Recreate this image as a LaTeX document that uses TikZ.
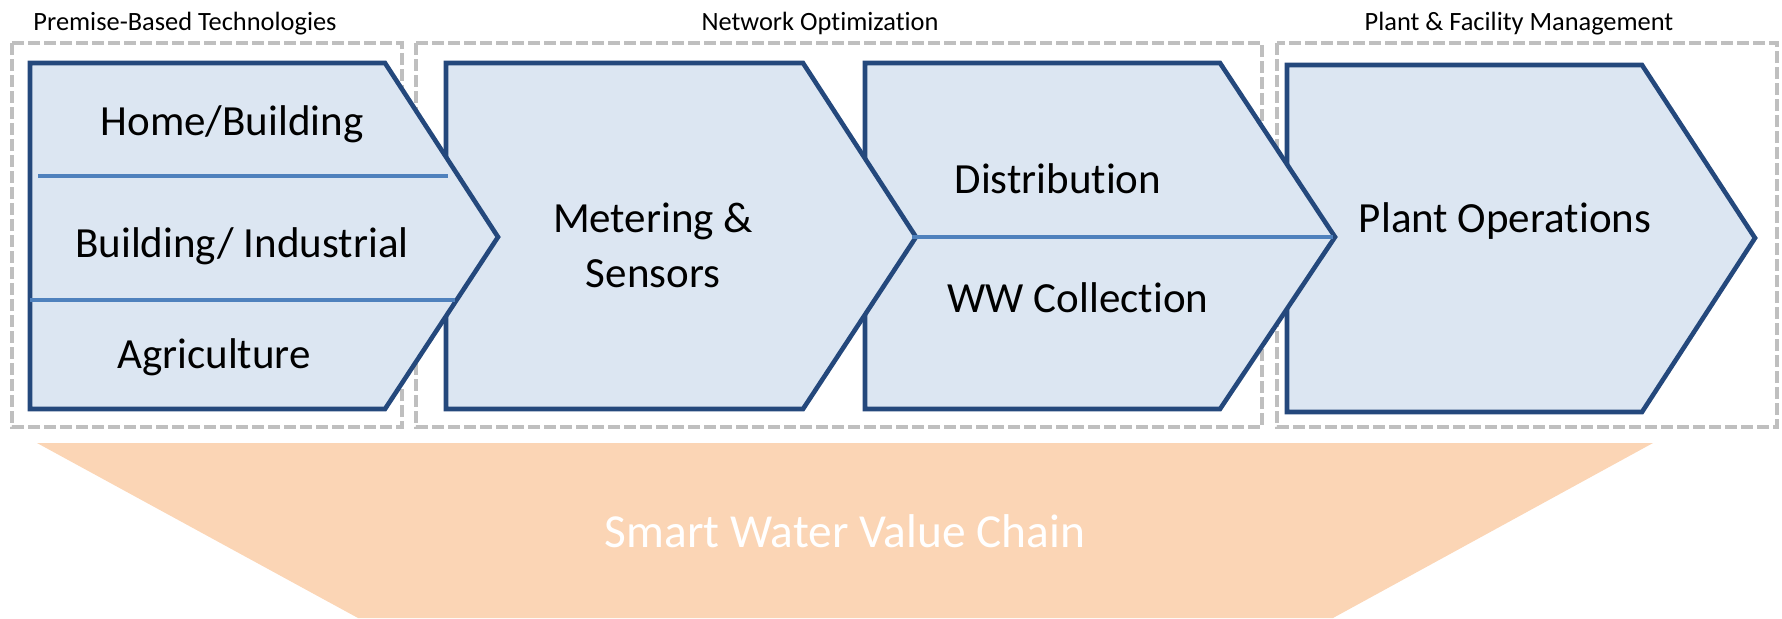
\documentclass[tikz,border=0pt]{standalone}
\usepackage{fontspec}
\setmainfont{Carlito}[Ligatures = NoCommon]
\definecolor{chevronBorder}{RGB}{36,72,124}
\definecolor{chevronFill}{RGB}{220,230,242}
\definecolor{splitBlue}{RGB}{79,129,189}
\definecolor{groupGray}{RGB}{191,191,191}
\definecolor{chainPeach}{RGB}{251,213,181}

\begin{document}
\begin{tikzpicture}[x = 0.5pt, y = -0.5pt]
	\tikzstyle{chevronStyle} = [draw = chevronBorder, fill = chevronFill, line width = 2.3pt]
	\tikzstyle{groupStyle} = [draw = groupGray, line width = 1.8pt, dash pattern = on 6pt off 2pt]
	\tikzstyle{splitStyle} = [draw = splitBlue, line width = 1.8pt]
	\tikzstyle{stepLabel} = [font = \fontsize{21.5}{27.5}\selectfont, align = center, anchor = base, inner sep = 0pt]
	\tikzstyle{groupLabel} = [font = \fontsize{13.2}{16}\selectfont, anchor = base, inner sep = 0pt]
	\useasboundingbox (0,0) rectangle (1782,618);
	% value chain band
	\fill[chainPeach] (37,443) -- (1653,443) -- (1333,618) -- (358,618) -- cycle;
	\node[stepLabel, text = white, font = \fontsize{23.7}{28}\selectfont] (chain) at (845,547) {Smart Water Value Chain};
	% groups
	\draw[groupStyle] (12,43) rectangle (402,427);
	\draw[groupStyle] (416,43) rectangle (1262,427);
	\draw[groupStyle] (1277,43) rectangle (1777,427);
	\node[groupLabel] (premise) at (185,30) {Premise-Based Technologies};
	\node[groupLabel] (network) at (820,30) {Network Optimization};
	\node[groupLabel] (facility) at (1519,30) {Plant \& Facility Management};
	% chevrons, back to front
	\draw[chevronStyle] (1287,65) -- (1642,65) -- (1755,238) -- (1642,412) -- (1287,412) -- cycle;
	\draw[chevronStyle] (865,63) -- (1220,63) -- (1335,237) -- (1220,409) -- (865,409) -- cycle;
	\draw[chevronStyle] (446,63) -- (803,63) -- (916,237) -- (803,409) -- (446,409) -- cycle;
	\draw[chevronStyle] (30,63) -- (385,63) -- (498,237) -- (385,409) -- (30,409) -- cycle;
	\draw[splitStyle] (38,176) -- (448,176);
	\draw[splitStyle] (30,300) -- (455,300);
	\draw[splitStyle] (912,237) -- (1333,237);
	% steps
	\node[stepLabel] (home) at (232,135) {Home/Building};
	\node[stepLabel] (industry) at (242,257) {Building/ Industrial};
	\node[stepLabel] (agri) at (214,368) {Agriculture};
	\node[stepLabel] (meter) at (653,287) {Metering \&\\Sensors};
	\node[stepLabel] (distrib) at (1058,193) {Distribution};
	\node[stepLabel] (wwcoll) at (1078,312) {WW Collection};
	\node[stepLabel] (plant) at (1505,232) {Plant Operations};
\end{tikzpicture}
\end{document}
